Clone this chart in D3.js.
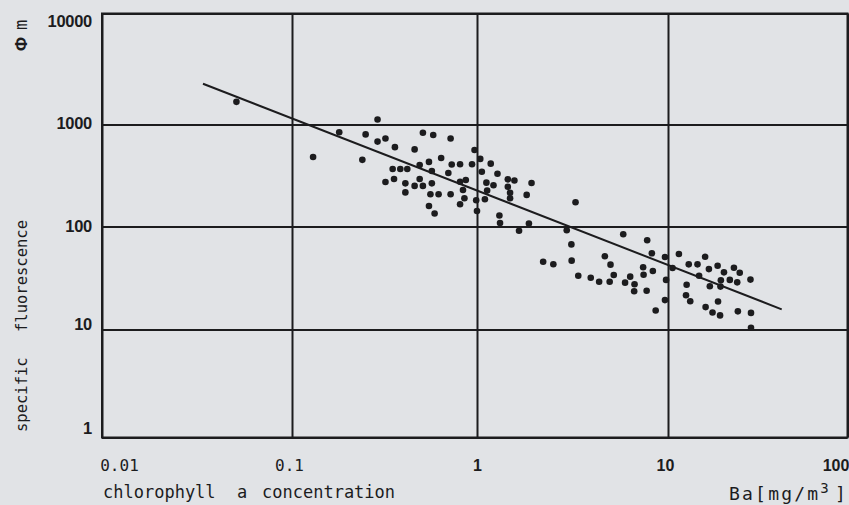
<!DOCTYPE html>
<html><head><meta charset="utf-8">
<script src="https://cdn.jsdelivr.net/npm/d3@7/dist/d3.min.js"></script>
<style>
html,body{margin:0;padding:0;background:#e1e3e6;}
svg{display:block;}
</style></head><body>
<svg id="chart" width="849" height="505"></svg>
<script>
const xTickValues = [0.01, 0.1, 1, 10, 100];
const xTickLabels = ["0.01", "0.1", "1", "10", "100"];
const yTickValues = [1, 10, 100, 1000, 10000];
const yTickLabels = ["1", "10", "100", "1000", "10000"];

const chlorophyll = [
  0.051, 0.13, 0.18, 0.24, 0.25, 0.29, 0.29, 0.32, 0.36, 0.46,
  0.35, 0.385, 0.42, 0.32, 0.356, 0.41, 0.41, 0.46, 0.49, 0.49,
  0.51, 0.51, 0.58, 0.72, 0.55, 0.57, 0.57, 0.56, 0.62, 0.64,
  0.55, 0.59, 0.70, 0.73, 0.81, 0.72, 0.81, 0.84, 0.87, 0.81,
  0.855, 0.94, 0.97, 1.04, 1.06, 0.99, 1.0, 1.12, 1.13, 1.10,
  1.18, 1.22, 1.28, 1.45, 1.57, 1.45, 1.49, 1.49, 1.82, 1.93,
  1.31, 1.32, 1.66, 1.87, 2.95, 3.12, 3.28, 2.22, 2.51, 3.13,
  3.39, 3.94, 4.36, 4.95, 5.2, 5.0, 4.67, 5.83, 7.78, 8.23,
  7.41, 7.45, 8.33, 6.34, 5.96, 6.68, 6.65, 7.73, 8.62, 9.64,
  9.77, 9.64, 10.6, 11.5, 13.05, 14.6, 16.1, 14.9, 12.7, 12.6,
  13.3, 16.9, 18.9, 20.5, 17.1, 19.7, 19.6, 23.3, 25.1, 22.1,
  24.3, 28.8, 16.2, 17.7, 19.5, 19.0, 24.5, 29.0, 29.0
];
const fluorescence = [
  1600, 480, 840, 450, 800, 1110, 680, 730, 600, 570,
  366, 366, 366, 273, 292, 265, 216, 250, 292, 400,
  250, 830, 790, 730, 430, 350, 265, 207, 207, 470,
  159, 134, 335, 405, 408, 207, 165, 228, 286, 275,
  189, 407, 562, 460, 344, 181, 142, 269, 225, 185,
  413, 254, 329, 290, 282, 245, 214, 189, 204, 267,
  128, 108, 91, 107, 92, 67, 173, 45.5, 43, 46.6,
  33.3, 31.8, 29.1, 29.1, 33.8, 42.6, 51.4, 84, 73.6, 55,
  40.2, 34, 37, 32.6, 28.5, 27.5, 23.5, 23.8, 15.3, 50.6,
  30.3, 19.3, 39.5, 54, 42.9, 42.9, 50.8, 33.3, 27.2, 21.5,
  18.8, 38.6, 41.6, 35.9, 26.3, 30.1, 26.1, 39.8, 35.6, 30.3,
  28.7, 30.5, 16.5, 14.6, 13.7, 18.7, 15.0, 14.5, 10.4
];
const fitX = [0.034, 43];
const fitY = [2330, 15.7];

const xTitleWords = ["chlorophyll", "a", "concentration"];
const xUnitMain = "Ba[mg/m";
const xUnitSup = "3";
const xUnitEnd = "]";
const yTitleWords = ["specific", "fluorescence"];
const yUnitWords = ["Φ", "m"];

const ink = "#1c1c1e";
const monoFont = "'DejaVu Sans Mono', monospace";
const sansFont = "'Liberation Sans', Arial, sans-serif";

const svg = d3.select("#chart");
svg.append("rect").attr("width", 849).attr("height", 505).attr("fill", "#e1e3e6");

const x = d3.scaleLog().domain(xTickValues).range([102, 292, 477, 668, 847.5]);
const y = d3.scaleLog().domain(yTickValues).range([437.5, 329.5, 226.5, 124.5, 13.5]);

const plotH = y(1) - y(10000);
const plotW = x(100) - x(0.01);

// x grid + labels
const gx = svg.append("g").attr("transform", `translate(0,${y(1)})`)
  .call(d3.axisBottom(x).tickValues(xTickValues).tickSize(-plotH).tickSizeOuter(0)
    .tickFormat((d, i) => xTickLabels[i]));
gx.select(".domain").remove();
gx.selectAll("line").attr("stroke", ink).attr("stroke-width", 2);
const xLabelDx = [17, -3, 0, -3, -12];
gx.selectAll("text")
  .attr("dy", null).attr("y", 33)
  .attr("dx", (d, i) => xLabelDx[i])
  .attr("fill", ink)
  .style("font-family", (d, i) => i < 2 ? monoFont : sansFont)
  .style("font-size", "16px")
  .style("font-weight", (d, i) => i < 2 ? "normal" : "bold");

// y grid + labels
const gy = svg.append("g").attr("transform", `translate(${x(0.01)},0)`)
  .call(d3.axisLeft(y).tickValues(yTickValues).tickSize(-plotW).tickSizeOuter(0)
    .tickFormat((d, i) => yTickLabels[i]));
gy.select(".domain").remove();
gy.selectAll("line").attr("stroke", ink).attr("stroke-width", 2);
const yLabelDy = [-9.5, -5.5, 0, -1, 8];
gy.selectAll("text")
  .attr("x", -10)
  .attr("y", (d, i) => yLabelDy[i])
  .attr("fill", ink)
  .style("font-family", sansFont)
  .style("font-size", "16.5px")
  .style("font-weight", "bold")
  .style("letter-spacing", "-0.3px");

// frame
svg.append("rect")
  .attr("x", x(0.01)).attr("y", y(10000))
  .attr("width", plotW).attr("height", plotH)
  .attr("fill", "none").attr("stroke", ink).attr("stroke-width", 2);

// regression line
const fit = fitX.map((v, i) => [v, fitY[i]]);
svg.append("path")
  .datum(fit)
  .attr("d", d3.line().x(d => x(d[0])).y(d => y(d[1])))
  .attr("fill", "none").attr("stroke", ink).attr("stroke-width", 2);

// points
const pts = chlorophyll.map((v, i) => [v, fluorescence[i]]);
svg.append("g").selectAll("circle").data(pts).join("circle")
  .attr("cx", d => x(d[0])).attr("cy", d => y(d[1]))
  .attr("r", 3.3).attr("fill", ink);

// x title
const xt = svg.append("text")
  .attr("y", 498).attr("fill", ink)
  .style("font-family", monoFont).style("font-size", "17px");
const xWordX = [103, 237, 262];
xTitleWords.forEach((w, i) => xt.append("tspan").attr("x", xWordX[i]).text(w));

const xu = svg.append("text")
  .attr("x", 848).attr("y", 500).attr("text-anchor", "end").attr("fill", ink)
  .style("font-family", monoFont).style("font-size", "18px").style("letter-spacing", "2.2px");
xu.append("tspan").text(xUnitMain);
xu.append("tspan").attr("dy", -7).style("font-size", "14px").text(xUnitSup);
xu.append("tspan").attr("dy", 7).attr("dx", 4).text(xUnitEnd);

// y title (rotated)
const yt = svg.append("text")
  .attr("transform", "translate(27,432) rotate(-90)")
  .attr("fill", ink)
  .style("font-family", monoFont).style("font-size", "15.5px");
const yWordX = [0, 100];
yTitleWords.forEach((w, i) => yt.append("tspan").attr("x", yWordX[i]).text(w));

const yu = svg.append("text")
  .attr("transform", "translate(27,51) rotate(-90)")
  .attr("fill", ink)
  .style("font-family", sansFont).style("font-size", "17px").style("font-weight", "bold");
const yUnitX = [0, 21];
yUnitWords.forEach((w, i) => yu.append("tspan").attr("x", yUnitX[i])
  .style("font-family", i === 1 ? monoFont : sansFont)
  .style("font-weight", i === 1 ? "normal" : "bold").text(w));
</script>
</body></html>
